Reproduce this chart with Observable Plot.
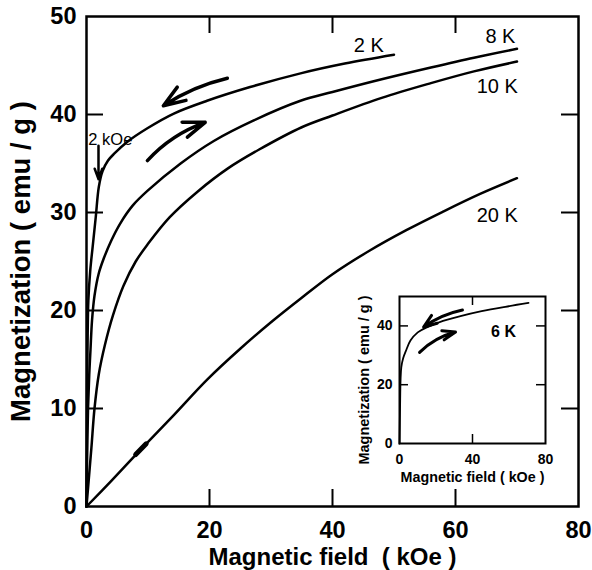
<!DOCTYPE html>
<html><head><meta charset="utf-8">
<script src="https://cdn.jsdelivr.net/npm/d3@7"></script>
<script src="https://cdn.jsdelivr.net/npm/@observablehq/plot@0.6"></script>
<style>
body{margin:0;background:#fff}
#wrap{position:relative;width:592px;height:570px}
#main{position:absolute;left:0;top:0}
#inset{position:absolute;left:355px;top:291px}
</style>
</head><body><div id="wrap"><div id="main"></div><div id="inset"></div></div>
<script>
// ---- data ----
const H_2K  = [0, 0.05, 0.1, 0.18, 0.3, 0.6, 1.0, 1.5, 2.0, 2.6, 3.5, 4.5, 6.6, 9.9, 14.2, 19.6, 26.6, 34.8, 42, 50];
const M_2K  = [0, 6, 12, 17, 21, 24, 26.5, 29.5, 32.6, 34.2, 35.3, 36, 37.2, 38.6, 40.1, 41.4, 42.8, 44.2, 45.2, 46.1];
const H_8K  = [0, 0.1, 0.25, 0.45, 0.65, 0.9, 1.3, 2.0, 2.8, 4, 5.5, 7.5, 9.9, 15.3, 20.7, 27.2, 34.8, 40, 48, 56, 63, 70];
const M_8K  = [0, 5, 10, 13.5, 16, 19, 21.5, 23.8, 25.3, 27.1, 28.9, 30.7, 32.2, 35, 37.3, 39.4, 41.4, 42.3, 43.6, 44.8, 45.8, 46.7];
const H_10K = [0, 0.4, 0.8, 1.3, 2, 3, 4.3, 6, 8, 10, 13.5, 18, 23, 28, 35, 40, 48, 56, 63, 70];
const M_10K = [0, 3, 6, 10, 13.5, 16.5, 19.5, 22.5, 25, 26.8, 29.5, 32.1, 34.5, 36.4, 38.7, 39.9, 41.7, 43.2, 44.4, 45.4];
const H_20K = [0, 4, 8.8, 14, 19.7, 25, 30, 35, 40, 46, 52, 58, 64, 70];
const M_20K = [0, 2.6, 5.8, 9.2, 13.0, 16.1, 18.8, 21.3, 23.7, 26.1, 28.2, 30.1, 31.9, 33.5];
const H_6K  = [0, 0.3, 0.6, 1, 2, 3.5, 6, 10, 15.3, 22, 33.4, 45, 58, 70.7];
const M_6K  = [0, 12, 22, 26, 29, 31.5, 35, 37.8, 39.6, 41.3, 43.3, 45, 46.5, 47.8];
const blipH = [8.0, 9.7];           // small mark on the 20 K curve
const blipM = [5.3, 6.4];

const xTickLabels = [0, 20, 40, 60, 80];
const yTickLabels = [0, 10, 20, 30, 40, 50];
const xInnerTicks = [20, 40, 60];
const yInnerTicks = [10, 20, 30, 40];
const insetXTicks = [0, 40, 80];
const insetYTicks = [0, 20, 40];
const insetXInner = [40];
const insetYInner = [20, 40];

const curveLabels = [
  {text: "2 K",  x: 45.9, y: 47.0},
  {text: "8 K",  x: 67.3, y: 47.9},
  {text: "10 K", x: 66.8, y: 42.8},
  {text: "20 K", x: 66.8, y: 29.7}
];
const fieldNote = [{text: "2 kOe", x: 0.3, y: 37.4}];
const downArrowMain = [{x1: 22.9, y1: 43.7, x2: 12.5, y2: 40.9}];
const upArrowMain   = [{x1: 9.9,  y1: 35.3, x2: 19.3, y2: 39.2}];
const noteArrow = [{x1: 1.95, y1: 36.8, x2: 1.95, y2: 33.4}];
const downArrowInset = [{x1: 34.5, y1: 45.4, x2: 13.2, y2: 39.6}];
const upArrowInset   = [{x1: 11,   y1: 31,   x2: 30.7, y2: 37.9}];
const insetLabel = [{text: "6 K", x: 57, y: 37.9}];

const toRows = (T, H, M) => H.map((h, i) => ({T, H: h, M: M[i]}));
const mainRows = [
  ...toRows("2 K", H_2K, M_2K), ...toRows("8 K", H_8K, M_8K),
  ...toRows("10 K", H_10K, M_10K), ...toRows("20 K", H_20K, M_20K)
];
const insetRows = toRows("6 K", H_6K, M_6K);
const blipRows = toRows("blip", blipH, blipM);

const FONT = "'Liberation Sans', Arial, Helvetica, sans-serif";
const arrowOpts = (bend, sw, hl) => ({x1: "x1", y1: "y1", x2: "x2", y2: "y2", bend, strokeWidth: sw, headLength: hl, headAngle: 40, stroke: "black"});

// ---- main chart ----
const W = 592, Ht = 570, mL = 86, mR = 14, mT = 16, mB = 64;
const fW = W - mL - mR, fH = Ht - mT - mB, tk = 17;
const main = Plot.plot({
  width: W, height: Ht, marginLeft: mL, marginRight: mR, marginTop: mT, marginBottom: mB,
  x: {domain: [0, 80]}, y: {domain: [0, 50]},
  style: {fontFamily: FONT, background: "white", color: "black"},
  marks: [
    Plot.frame({stroke: "black", strokeWidth: 2.5}),
    Plot.tickX(xInnerTicks, {x: d => d, insetTop: fH - tk, strokeWidth: 2}),
    Plot.tickX(xInnerTicks, {x: d => d, insetBottom: fH - tk, strokeWidth: 2}),
    Plot.tickY(yInnerTicks, {y: d => d, insetRight: fW - tk, strokeWidth: 2}),
    Plot.tickY(yInnerTicks, {y: d => d, insetLeft: fW - tk, strokeWidth: 2}),
    Plot.axisX(xTickLabels, {tickSize: 0, tickPadding: 15, fontSize: 23.5, fontWeight: "bold", label: null}),
    Plot.axisY(yTickLabels, {tickSize: 0, tickPadding: 10, fontSize: 23.5, fontWeight: "bold", label: null}),
    Plot.text(["Magnetic field\u00a0 ( kOe )"], {text: d => d, frameAnchor: "bottom", dy: 51, fontSize: 24, fontWeight: "bold", lineAnchor: "middle"}),
    Plot.text(["Magnetization ( emu / g )"], {text: d => d, frameAnchor: "left", textAnchor: "middle", dx: -65, rotate: -90, fontSize: 27.5, fontWeight: "bold", lineAnchor: "middle"}),
    Plot.line(mainRows, {x: "H", y: "M", z: "T", curve: "catmull-rom", stroke: "black", strokeWidth: 2.5}),
    Plot.line(blipRows, {x: "H", y: "M", stroke: "black", strokeWidth: 5}),
    Plot.text(curveLabels, {x: "x", y: "y", text: "text", fontSize: 20, lineAnchor: "middle"}),
    Plot.text(fieldNote, {x: "x", y: "y", text: "text", fontSize: 16.5, textAnchor: "start", lineAnchor: "middle"}),
    Plot.arrow(downArrowMain, arrowOpts(-10, 3.5, 15)),
    Plot.arrow(upArrowMain, arrowOpts(14, 3.5, 15)),
    Plot.arrow(noteArrow, arrowOpts(0, 2.5, 11))
  ]
});
document.getElementById("main").appendChild(main);

// ---- inset ----
const iW = 202, iH = 197, imL = 44, imR = 12, imT = 5, imB = 45;
const ifW = iW - imL - imR, ifH = iH - imT - imB, itk = 9;
const inset = Plot.plot({
  width: iW, height: iH, marginLeft: imL, marginRight: imR, marginTop: imT, marginBottom: imB,
  x: {domain: [0, 80]}, y: {domain: [0, 50]},
  style: {fontFamily: FONT, background: "transparent", color: "black", overflow: "visible"},
  marks: [
    Plot.frame({stroke: "black", strokeWidth: 2}),
    Plot.tickX(insetXInner, {x: d => d, insetTop: ifH - itk, strokeWidth: 1.5}),
    Plot.tickX(insetXInner, {x: d => d, insetBottom: ifH - itk, strokeWidth: 1.5}),
    Plot.tickY(insetYInner, {y: d => d, insetRight: ifW - itk, strokeWidth: 1.5}),
    Plot.tickY(insetYInner, {y: d => d, insetLeft: ifW - itk, strokeWidth: 1.5}),
    Plot.axisX(insetXTicks, {tickSize: 0, tickPadding: 11, fontSize: 14, fontWeight: "bold", label: null}),
    Plot.axisY(insetYTicks, {tickSize: 0, tickPadding: 7, fontSize: 14, fontWeight: "bold", label: null}),
    Plot.text(["Magnetic field ( kOe )"], {text: d => d, frameAnchor: "bottom", dy: 34, fontSize: 14.3, fontWeight: "bold", lineAnchor: "middle"}),
    Plot.text(["Magnetization ( emu / g )"], {text: d => d, frameAnchor: "left", textAnchor: "middle", dx: -35, dy: 10, rotate: -90, fontSize: 14.5, fontWeight: "bold", lineAnchor: "middle"}),
    Plot.line(insetRows, {x: "H", y: "M", curve: "catmull-rom", stroke: "black", strokeWidth: 1.8}),
    Plot.text(insetLabel, {x: "x", y: "y", text: "text", fontSize: 16, fontWeight: "bold", lineAnchor: "middle"}),
    Plot.arrow(downArrowInset, arrowOpts(-12, 3, 10)),
    Plot.arrow(upArrowInset, arrowOpts(15, 3, 10))
  ]
});
document.getElementById("inset").appendChild(inset);
</script>
</body></html>
